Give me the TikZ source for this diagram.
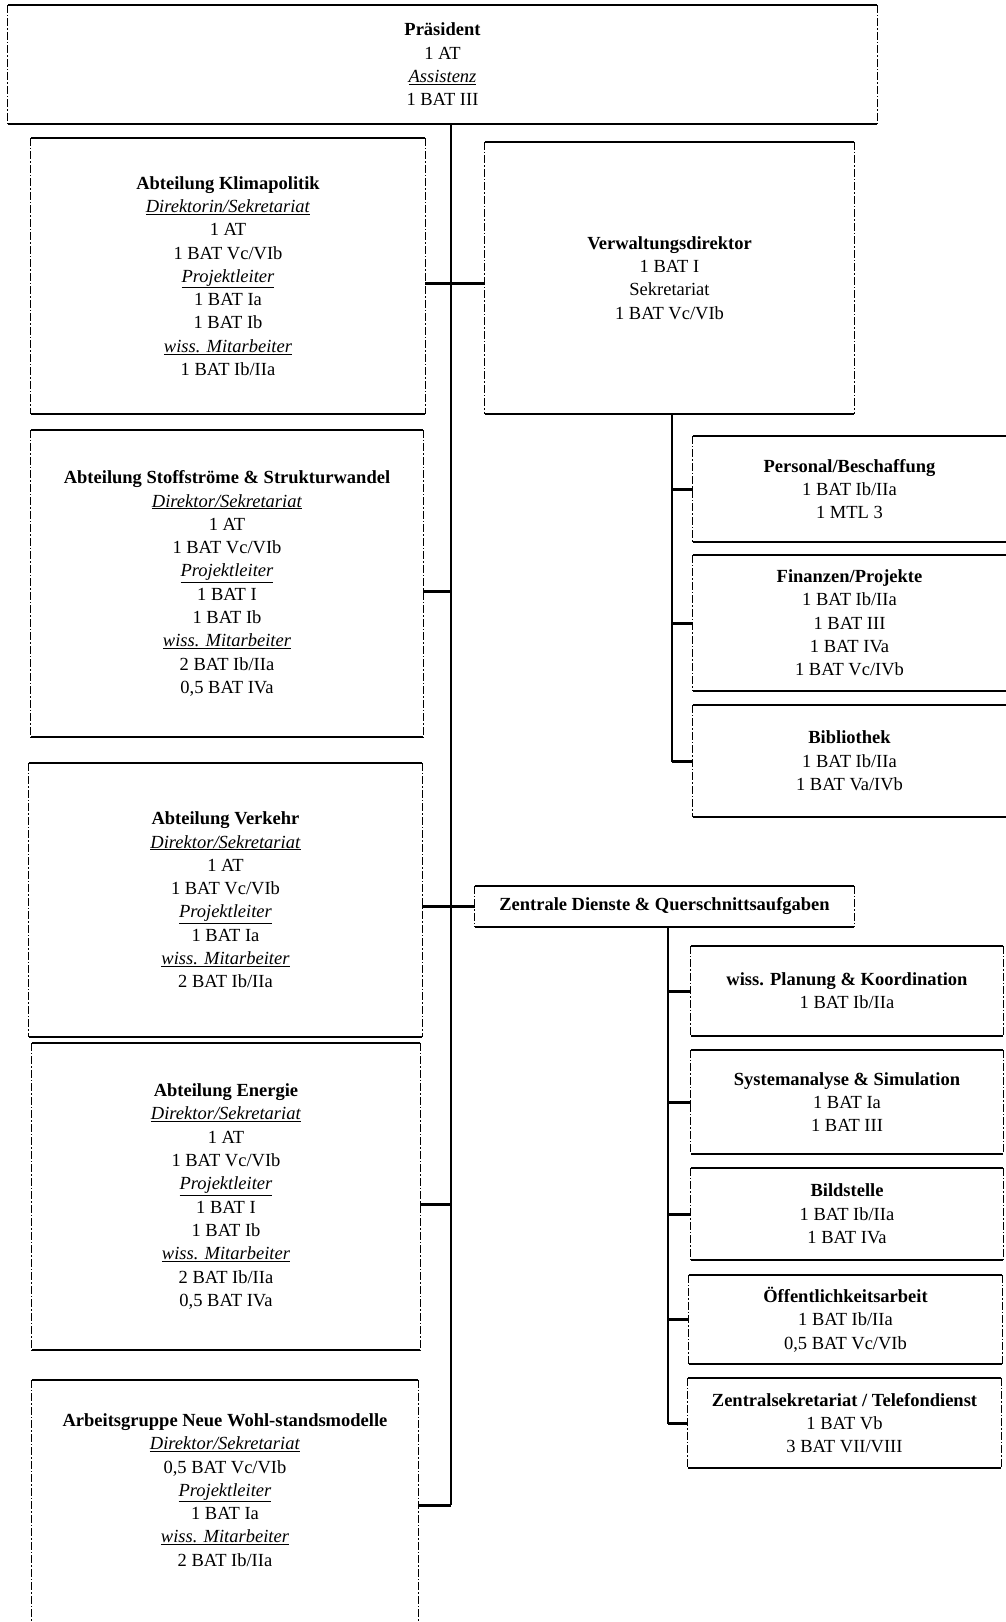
\documentclass[tikz,border=0pt]{standalone}
\usepackage{fontspec}
\setmainfont{Liberation Serif}
\newcommand\ul[1]{\underline{\textit{#1}}}
\tikzset{
  obox/.style={rectangle, inner sep=0pt, align=center, font=\fontsize{18.5}{23.3}\selectfont},
  edgeh/.style={line width=1.6pt, black},
  edgev/.style={line width=1.1pt, black, dash pattern=on 8pt off 2pt on 1.5pt off 2pt},
  conn/.style={line width=3pt, black},
  trunk/.style={line width=2.6pt, black}
}
\newcommand\orgbox[6]{\node[obox,minimum width={#4pt-#2pt},minimum height={#5pt-#3pt}] (#1) at ({(#2+#4)/2},{(#3+#5)/2}) {#6};}
\newcommand\frameall[1]{%
  \draw[edgeh] (#1.north west) -- (#1.north east);
  \draw[edgeh] (#1.south west) -- (#1.south east);
  \draw[edgev] (#1.north west) -- (#1.south west);
  \draw[edgev] (#1.north east) -- (#1.south east);}
\newcommand\frameopen[1]{%
  \draw[edgeh] (#1.north west) -- (#1.north east);
  \draw[edgeh] (#1.south west) -- (#1.south east);
  \draw[edgev] (#1.north west) -- (#1.south west);}
\begin{document}
\begin{tikzpicture}[x=1pt,y=-1pt]
\fill[white] (0,0) rectangle (1006,1622);
\useasboundingbox (0,0) rectangle (1006,1622);

% President
\orgbox{pres}{8}{5}{877}{124}{\textbf{Präsident}\\1 AT\\\ul{Assistenz}\\1 BAT III}
\frameall{pres}

% left column
\orgbox{klima}{31}{138}{425}{414}{\textbf{Abteilung Klimapolitik}\\\ul{Direktorin/Sekretariat}\\1 AT\\1 BAT Vc/VIb\\\ul{Projektleiter}\\1 BAT Ia\\1 BAT Ib\\\ul{wiss. Mitarbeiter}\\1 BAT Ib/IIa}
\frameall{klima}
\orgbox{stoff}{31}{430}{423}{737}{\textbf{Abteilung Stoffströme \& Strukturwandel}\\\ul{Direktor/Sekretariat}\\1 AT\\1 BAT Vc/VIb\\\ul{Projektleiter}\\1 BAT I\\1 BAT Ib\\\ul{wiss. Mitarbeiter}\\2 BAT Ib/IIa\\0,5 BAT IVa}
\frameall{stoff}
\orgbox{verk}{29}{763}{422}{1037}{\textbf{Abteilung Verkehr}\\\ul{Direktor/Sekretariat}\\1 AT\\1 BAT Vc/VIb\\\ul{Projektleiter}\\1 BAT Ia\\\ul{wiss. Mitarbeiter}\\2 BAT Ib/IIa}
\frameall{verk}
\orgbox{ener}{32}{1043}{420}{1350}{\textbf{Abteilung Energie}\\\ul{Direktor/Sekretariat}\\1 AT\\1 BAT Vc/VIb\\\ul{Projektleiter}\\1 BAT I\\1 BAT Ib\\\ul{wiss. Mitarbeiter}\\2 BAT Ib/IIa\\0,5 BAT IVa}
\frameall{ener}
\orgbox{ag}{32}{1380}{418}{1600}{\textbf{Arbeitsgruppe Neue Wohl-standsmodelle}\\\ul{Direktor/Sekretariat}\\0,5 BAT Vc/VIb\\\ul{Projektleiter}\\1 BAT Ia\\\ul{wiss. Mitarbeiter}\\2 BAT Ib/IIa}
\coordinate (pagebot) at (0,1622);
\draw[edgeh] (ag.north west) -- (ag.north east);
\draw[edgev] (ag.north west) -- (ag.north west |- pagebot);
\draw[edgev] (ag.north east) -- (ag.north east |- pagebot);

% right column: administration
\orgbox{verw}{485}{142}{854}{414}{\textbf{Verwaltungsdirektor}\\1 BAT I\\Sekretariat\\1 BAT Vc/VIb}
\frameall{verw}
\orgbox{pers}{693}{436}{1006}{542}{\textbf{Personal/Beschaffung}\\1 BAT Ib/IIa\\1 MTL 3}
\frameopen{pers}
\orgbox{fin}{693}{555}{1006}{691}{\textbf{Finanzen/Projekte}\\1 BAT Ib/IIa\\1 BAT III\\1 BAT IVa\\1 BAT Vc/IVb}
\frameopen{fin}
\orgbox{bib}{693}{705}{1006}{817}{\textbf{Bibliothek}\\1 BAT Ib/IIa\\1 BAT Va/IVb}
\frameopen{bib}

% right column: central services
\orgbox{zent}{475}{886}{854}{927}{\textbf{Zentrale Dienste \& Querschnittsaufgaben}}
\frameall{zent}
\orgbox{wp}{691}{946}{1003}{1036}{\textbf{wiss. Planung \& Koordination}\\1 BAT Ib/IIa}
\frameall{wp}
\orgbox{sa}{691}{1050}{1003}{1154}{\textbf{Systemanalyse \& Simulation}\\1 BAT Ia\\1 BAT III}
\frameall{sa}
\orgbox{bs}{691}{1168}{1003}{1260}{\textbf{Bildstelle}\\1 BAT Ib/IIa\\1 BAT IVa}
\frameall{bs}
\orgbox{oe}{689}{1275}{1002}{1364}{\textbf{Öffentlichkeitsarbeit}\\1 BAT Ib/IIa\\0,5 BAT Vc/VIb}
\frameall{oe}
\orgbox{zs}{688}{1378}{1001}{1468}{\textbf{Zentralsekretariat / Telefondienst}\\1 BAT Vb\\3 BAT VII/VIII}
\frameall{zs}

% main trunk
\coordinate (tbot) at (451,1505);
\coordinate (c1) at (451,283);
\coordinate (c2) at (451,591);
\coordinate (c3) at (451,1204);
\draw[trunk] (pres.south -| tbot) -- (tbot);
\draw[conn] (klima.east |- c1) -- (verw.west |- c1);
\draw[conn] (stoff.east |- c2) -- (c2);
\draw[conn] (verk.east |- zent.west) -- (zent.west);
\draw[conn] (ener.east |- c3) -- (c3);
\draw[conn] (tbot) -- (ag.east |- tbot);

% administration sub-trunk
\coordinate (vx) at (672,0);
\draw[trunk] (verw.south -| vx) |- (bib.west);
\draw[conn] (pers.west -| vx) -- (pers.west);
\draw[conn] (fin.west -| vx) -- (fin.west);
\draw[conn] (bib.west -| vx) -- (bib.west);

% central services sub-trunk
\coordinate (zx) at (668,0);
\draw[trunk] (zent.south -| zx) |- (zs.west);
\draw[conn] (wp.west -| zx) -- (wp.west);
\draw[conn] (sa.west -| zx) -- (sa.west);
\draw[conn] (bs.west -| zx) -- (bs.west);
\draw[conn] (oe.west -| zx) -- (oe.west);
\draw[conn] (zs.west -| zx) -- (zs.west);
\end{tikzpicture}
\end{document}
